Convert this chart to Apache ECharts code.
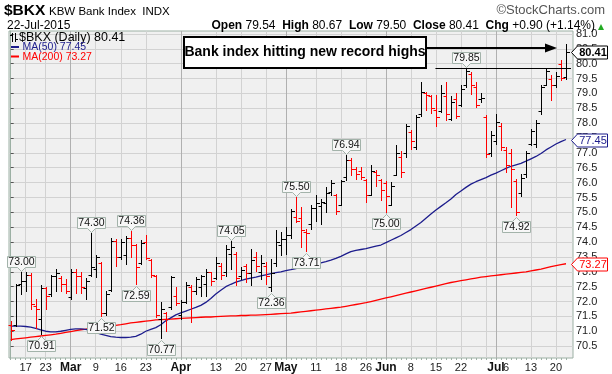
<!DOCTYPE html>
<html><head><meta charset="utf-8">
<script src="https://cdn.jsdelivr.net/npm/echarts@6/dist/echarts.min.js"></script>
<style>html,body{margin:0;padding:0;background:#fff}#c{width:612px;height:374px}</style>
</head><body><div id="c"></div>
<script>
// ---------- data ----------
const dates = ['2015-02-11','2015-02-12','2015-02-13','2015-02-17','2015-02-18','2015-02-19','2015-02-20','2015-02-23','2015-02-24','2015-02-25',
'2015-02-26','2015-02-27','2015-03-02','2015-03-03','2015-03-04','2015-03-05','2015-03-06','2015-03-09','2015-03-10','2015-03-11',
'2015-03-12','2015-03-13','2015-03-16','2015-03-17','2015-03-18','2015-03-19','2015-03-20','2015-03-23','2015-03-24','2015-03-25',
'2015-03-26','2015-03-27','2015-03-30','2015-03-31','2015-04-01','2015-04-02','2015-04-06','2015-04-07','2015-04-08','2015-04-09',
'2015-04-10','2015-04-13','2015-04-14','2015-04-15','2015-04-16','2015-04-17','2015-04-20','2015-04-21','2015-04-22','2015-04-23',
'2015-04-24','2015-04-27','2015-04-28','2015-04-29','2015-04-30','2015-05-01','2015-05-04','2015-05-05','2015-05-06','2015-05-07',
'2015-05-08','2015-05-11','2015-05-12','2015-05-13','2015-05-14','2015-05-15','2015-05-18','2015-05-19','2015-05-20','2015-05-21',
'2015-05-22','2015-05-26','2015-05-27','2015-05-28','2015-05-29','2015-06-01','2015-06-02','2015-06-03','2015-06-04','2015-06-05',
'2015-06-08','2015-06-09','2015-06-10','2015-06-11','2015-06-12','2015-06-15','2015-06-16','2015-06-17','2015-06-18','2015-06-19',
'2015-06-22','2015-06-23','2015-06-24','2015-06-25','2015-06-26','2015-06-29','2015-06-30','2015-07-01','2015-07-02','2015-07-06',
'2015-07-07','2015-07-08','2015-07-09','2015-07-10','2015-07-13','2015-07-14','2015-07-15','2015-07-16','2015-07-17','2015-07-20',
'2015-07-21','2015-07-22'];

const opens = [71.20,71.20,72.60,72.70,72.90,71.85,71.40,72.45,72.25,72.85,
72.80,72.60,72.15,73.00,72.85,72.45,72.90,73.10,73.30,71.60,
72.40,74.05,73.50,73.55,74.15,73.90,73.30,74.00,73.40,72.85,
71.40,71.60,71.80,72.20,71.55,72.00,72.50,72.35,72.50,72.60,
73.00,72.80,73.20,73.00,73.60,73.60,72.85,73.20,72.95,73.50,
73.00,73.20,72.50,73.30,73.90,74.10,74.25,74.85,74.80,74.35,
74.60,75.15,75.20,75.30,75.70,75.60,75.25,76.20,76.75,76.45,
76.40,76.10,75.60,76.35,76.10,76.00,75.25,76.25,76.85,77.00,
77.70,77.20,78.30,79.00,78.90,78.45,78.40,78.90,78.15,78.80,
78.60,79.30,79.65,79.20,78.80,78.20,77.00,77.40,77.90,77.10,
77.00,76.05,75.65,76.30,77.30,77.30,78.40,79.30,79.50,79.30,
80.00,79.54];

const highs = [71.36,72.60,73.00,72.98,72.95,72.10,72.55,72.48,72.90,73.10,
72.85,72.76,73.10,73.08,73.00,72.80,74.30,73.57,73.32,72.37,
74.13,74.11,74.11,74.20,74.36,73.94,74.08,74.25,73.43,72.88,
71.97,71.66,72.87,72.48,72.05,72.65,72.55,72.81,72.90,73.10,
73.00,73.49,73.29,73.90,74.05,73.66,73.15,73.27,73.75,73.66,
73.55,73.32,73.43,74.40,74.35,74.50,75.10,75.50,75.17,74.45,
75.23,75.57,75.45,75.85,76.10,75.62,76.10,76.94,76.82,76.52,
76.52,76.13,76.58,76.41,76.13,76.07,76.02,77.27,77.08,77.98,
77.76,78.28,79.40,79.05,78.95,78.96,79.27,79.38,78.90,79.00,
79.27,79.85,79.72,79.38,79.00,78.26,77.75,78.30,78.00,77.19,
77.14,76.13,76.30,77.08,77.81,78.09,79.27,79.83,79.61,79.72,
80.11,80.67];

const lows = [70.70,71.17,72.26,72.35,71.75,71.10,70.91,71.75,72.20,72.35,
72.35,72.30,72.10,72.30,72.30,72.10,72.85,72.82,71.52,71.55,
72.37,73.20,73.43,73.27,73.50,72.59,73.27,73.43,72.82,71.47,
70.77,71.02,71.75,71.88,71.40,71.95,71.30,72.25,72.20,72.20,
72.54,72.76,72.76,72.85,73.10,72.54,72.75,72.67,72.55,73.04,
72.75,72.59,72.36,73.20,73.55,73.60,74.15,74.67,73.83,73.71,
74.45,74.70,74.60,75.00,75.60,74.95,75.23,76.10,76.24,76.13,
76.13,75.34,75.57,75.90,75.40,75.00,75.23,76.24,76.18,76.86,
77.14,77.14,78.25,78.43,78.35,77.90,78.37,78.10,78.09,78.18,
78.58,79.20,78.99,78.54,78.72,76.86,76.90,77.30,77.10,76.35,
75.17,74.92,75.55,76.18,77.25,77.20,78.32,79.27,78.77,79.21,
79.45,79.50];

const closes = [71.05,72.55,72.70,72.90,71.90,71.75,72.45,72.20,72.85,72.95,
72.60,72.35,73.00,72.85,72.50,72.70,73.15,73.50,71.60,72.25,
74.05,73.50,74.00,74.15,73.90,73.15,73.97,73.45,72.90,71.55,
71.75,71.40,72.82,71.95,72.00,72.55,72.35,72.75,72.85,73.00,
72.70,73.30,72.90,73.75,73.82,72.80,73.05,72.95,73.40,73.20,
73.30,72.85,72.95,74.00,74.10,74.25,75.05,74.70,74.40,74.30,
75.15,75.30,75.35,75.65,76.00,75.05,76.05,76.75,76.45,76.30,
76.20,75.60,76.40,76.25,75.75,75.55,75.90,77.00,76.35,77.90,
77.40,78.20,79.05,78.95,78.50,78.20,79.00,78.30,78.70,78.25,
79.15,79.75,79.30,78.60,78.85,76.95,77.60,78.05,77.20,76.60,
76.45,75.00,76.15,77.00,77.75,78.00,79.20,79.75,79.27,79.60,
79.506,80.41];

const prevClose = 71.30; // close of the session before the first bar

const ma50 = [71.17,71.17,71.17,71.16,71.14,71.10,71.05,71.00,70.98,70.98,
71.00,71.03,71.06,71.08,71.08,71.06,71.02,70.96,70.90,70.86,
70.82,70.80,70.79,70.79,70.80,70.83,70.90,71.00,71.06,71.12,
71.22,71.35,71.45,71.55,71.62,71.68,71.74,71.80,71.87,71.97,
72.10,72.25,72.38,72.50,72.58,72.65,72.70,72.75,72.79,72.82,
72.86,72.90,72.94,72.97,73.00,73.04,73.07,73.11,73.15,73.19,
73.23,73.27,73.30,73.34,73.39,73.45,73.52,73.60,73.68,73.72,
73.75,73.78,73.82,73.86,73.90,73.98,74.06,74.14,74.22,74.32,
74.42,74.54,74.66,74.80,74.94,75.08,75.20,75.32,75.45,75.60,
75.72,75.84,75.95,76.03,76.10,76.17,76.25,76.32,76.40,76.48,
76.55,76.60,76.65,76.72,76.80,76.88,76.98,77.10,77.20,77.30,
77.38,77.45];

const ma200 = [70.72,70.74,70.76,70.78,70.80,70.82,70.84,70.86,70.88,70.90,
70.93,70.96,70.99,71.02,71.05,71.07,71.10,71.12,71.14,71.16,
71.18,71.20,71.22,71.25,71.28,71.30,71.32,71.34,71.36,71.38,
71.39,71.40,71.41,71.42,71.43,71.44,71.45,71.46,71.47,71.48,
71.48,71.49,71.50,71.51,71.52,71.52,71.53,71.53,71.54,71.54,
71.55,71.56,71.57,71.58,71.59,71.60,71.61,71.63,71.65,71.67,
71.69,71.71,71.73,71.75,71.77,71.79,71.81,71.84,71.87,71.90,
71.93,71.96,72.00,72.04,72.08,72.12,72.16,72.20,72.24,72.28,
72.32,72.36,72.40,72.44,72.48,72.52,72.56,72.60,72.64,72.67,
72.70,72.73,72.76,72.79,72.82,72.84,72.86,72.88,72.90,72.92,
72.94,72.96,72.98,73.00,73.03,73.06,73.09,73.13,73.17,73.21,
73.24,73.27];

// x tick labels (bar index -> text)
const xTickIdx  = [3,7,12,17,22,27,34,41,46,51,55,61,66,71,75,80,85,90,97,99,104,109];
const xTickText = ['17','23','Mar','9','16','23','Apr','13','20','27','May','11','18','26','Jun','8','15','22','Jul','6','13','20'];
const xGridIdx  = [3,7,12,17,22,27,34,41,46,51,55,61,66,71,75,80,85,90,95,97,104,109];
const monthIdx  = [12,34,55,75,97];
const yTicks = [70.5,71,71.5,72,72.5,73,73.5,74,74.5,75,75.5,76,76.5,77,77.5,78,78.5,79,79.5,80,80.5,81];

// annotated swing highs / lows (bar indices)
const peakIdx = [2,16,24,44,57,67,91];
const troughIdx = [6,18,25,30,52,59,75,101];

// ---------- chart ----------
const N = closes.length, last = N - 1;
const X_MIN = -0.34, X_MAX = 112.4;
const FONT = '"Liberation Sans", Arial, sans-serif';
const ohlcData = dates.map((d, i) => [i, opens[i], highs[i], lows[i], closes[i]]);
const ma50Data = ma50.map((v, i) => [i, v]);
const ma200Data = ma200.map((v, i) => [i, v]);
const hiloData = peakIdx.map(i => [i, highs[i], 1]).concat(troughIdx.map(i => [i, lows[i], -1]));
const tagData = [[last, closes[last], 0], [last, ma50[last], 1], [last, ma200[last], 2]];
const tagColors = ['#000000', '#1c1c8c', '#ff0000'];
const allIdx = dates.map((d, i) => i);

function renderOHLC(params, api) {
  const i = api.value(0);
  const pO = api.coord([i, api.value(1)]);
  const pH = api.coord([i, api.value(2)]);
  const pL = api.coord([i, api.value(3)]);
  const pC = api.coord([i, api.value(4)]);
  const prev = i === 0 ? prevClose : closes[i - 1];
  const col = api.value(4) < prev ? '#ff0000' : '#000000';
  const x = Math.round(pH[0]) + 0.5;
  const st = { stroke: col, lineWidth: 1 };
  const yo = Math.round(pO[1]) + 0.5, yc = Math.round(pC[1]) + 0.5;
  return { type: 'group', children: [
    { type: 'line', shape: { x1: x, y1: Math.round(pH[1]), x2: x, y2: Math.round(pL[1]) + 1 }, style: st },
    { type: 'line', shape: { x1: x - 3, y1: yo, x2: x, y2: yo }, style: st },
    { type: 'line', shape: { x1: x, y1: yc, x2: x + 3.5, y2: yc }, style: st }
  ]};
}

function renderHiLo(params, api) {
  const up = api.value(2) > 0;
  const v = api.value(1);
  const p = api.coord([api.value(0), v]);
  const txt = v.toFixed(2);
  const w = 28, h = 11, gap = 1, ptr = 4;
  const x = Math.round(p[0]) + 0.5;
  let pts, ty;
  if (up) {
    const yb = Math.round(p[1]) - gap - ptr + 0.5;
    const yt = yb - h;
    pts = [[x - w/2, yt], [x + w/2, yt], [x + w/2, yb], [x + ptr, yb], [x, yb + ptr], [x - ptr, yb], [x - w/2, yb]];
    ty = (yt + yb) / 2 + 0.5;
  } else {
    const yt = Math.round(p[1]) + gap + ptr + 1.5;
    const yb = yt + h;
    pts = [[x - w/2, yt], [x - ptr, yt], [x, yt - ptr], [x + ptr, yt], [x + w/2, yt], [x + w/2, yb], [x - w/2, yb]];
    ty = (yt + yb) / 2 + 0.5;
  }
  return { type: 'group', children: [
    { type: 'polygon', shape: { points: pts }, style: { fill: '#f7f7f7', stroke: '#a3b3aa', lineWidth: 1 } },
    { type: 'text', x: x, y: ty, style: { text: txt, fill: '#111', font: '10.5px ' + FONT, align: 'center', verticalAlign: 'middle' } }
  ]};
}

function renderTag(params, api) {
  const v = api.value(1), t = api.value(2);
  const p = api.coord([X_MAX, v]);
  const x0 = Math.round(p[0]) - 1.5, y = Math.round(p[1]) + 0.5;
  const col = tagColors[t];
  const h = 6.5;
  return { type: 'group', children: [
    { type: 'polygon', shape: { points: [[x0, y], [x0 + 6, y - h], [x0 + 36, y - h], [x0 + 36, y + h], [x0 + 6, y + h]] },
      style: { fill: '#ffffff', stroke: col, lineWidth: 1 } },
    { type: 'text', x: x0 + 21.5, y: y + 0.5, style: { text: v.toFixed(2), fill: col, font: (t === 0 ? 'bold ' : '') + '11px ' + FONT, align: 'center', verticalAlign: 'middle' } }
  ]};
}

const chg = closes[last] - closes[last - 1];
const pct = chg / closes[last - 1] * 100;
const sgn = chg >= 0 ? '+' : '';
const hdr = '{b|Open} ' + opens[last].toFixed(2) + '  {b|High} ' + highs[last].toFixed(2) + '  {b|Low} ' + lows[last].toFixed(2) +
  '  {b|Close} ' + closes[last].toFixed(2) + '  {b|Chg} ' + sgn + chg.toFixed(2) + ' (' + sgn + pct.toFixed(2) + '%)';

const chart = echarts.init(document.getElementById('c'), null, { renderer: 'canvas', width: 612, height: 374 });
chart.setOption({
  animation: false,
  backgroundColor: '#ffffff',
  grid: { left: 9, right: 39, top: 31, bottom: 16, show: true, backgroundColor: '#f0f0f0', borderColor: '#9cb0a4', borderWidth: 1 },
  xAxis: [
    { type: 'value', min: X_MIN, max: X_MAX, position: 'bottom',
      axisLine: { show: false }, axisTick: { show: false, customValues: xGridIdx },
      axisLabel: { customValues: xTickIdx, margin: 4, fontSize: 11, color: '#222', fontFamily: FONT,
        formatter: v => { const j = xTickIdx.indexOf(Math.round(v)); const t = xTickText[j]; return /^[A-Za-z]/.test(t) ? '{m|' + t + '}' : t; },
        rich: { m: { fontWeight: 'bold', fontSize: 12, fontFamily: FONT, color: '#111' } } },
      splitLine: { show: true, lineStyle: { color: '#d2d2d2', width: 1 } } },
    { type: 'value', min: X_MIN, max: X_MAX, position: 'bottom',
      axisLine: { show: false }, axisTick: { show: false, customValues: monthIdx }, axisLabel: { show: false },
      splitLine: { show: true, lineStyle: { color: '#b0b0b0', width: 1 } } },
    { type: 'value', min: X_MIN, max: X_MAX, position: 'bottom',
      axisLine: { show: false }, axisTick: { show: true, customValues: allIdx, length: 2, lineStyle: { color: '#9cb0a4' } },
      axisLabel: { show: false }, splitLine: { show: false } }
  ],
  yAxis: { type: 'value', position: 'right', min: 70.1, max: 81.1,
    axisLine: { show: true, lineStyle: { color: '#9cb0a4' } },
    axisTick: { show: true, customValues: yTicks, length: 3, lineStyle: { color: '#555' } },
    axisLabel: { customValues: yTicks, margin: 3, fontSize: 11, color: '#222', fontFamily: FONT, formatter: v => v.toFixed(1) },
    splitLine: { show: true, lineStyle: { color: '#d2d2d2', width: 1 } } },
  series: [
    { type: 'line', name: 'MA(200)', data: ma200Data, showSymbol: false, symbol: 'none', lineStyle: { color: '#ff0000', width: 1.3 }, z: 2 },
    { type: 'line', name: 'MA(50)', data: ma50Data, showSymbol: false, symbol: 'none', lineStyle: { color: '#1c1c8c', width: 1.3 }, z: 2 },
    { type: 'custom', name: 'BKX', data: ohlcData, renderItem: renderOHLC, encode: { x: 0, y: [1, 2, 3, 4] }, z: 3,
      markLine: { silent: true, symbol: 'none', label: { show: false }, lineStyle: { color: '#000', width: 1, type: 'solid' },
        data: [[{ coord: [84.9, highs[91]] }, { coord: [112.0, highs[91]] }]] } },
    { type: 'custom', name: 'hilo', data: hiloData, renderItem: renderHiLo, encode: { x: 0, y: 1 }, z: 4, clip: false },
    { type: 'custom', name: 'tags', data: tagData, renderItem: renderTag, encode: { x: 0, y: 1 }, z: 5, clip: false }
  ],
  graphic: [
    { type: 'text', z: 100, x: 4, y: 3, style: { text: '$BKX', font: 'bold 15.5px ' + FONT, fill: '#000' } },
    { type: 'text', z: 100, x: 49, y: 6, style: { text: 'KBW Bank Index  INDX', font: '11.5px ' + FONT, fill: '#000' } },
    { type: 'text', z: 100, x: 7, y: 20, style: { text: '22-Jul-2015', font: '12px ' + FONT, fill: '#000' } },
    { type: 'text', z: 100, x: 605, y: 4, style: { text: '\u00A9StockCharts.com', font: '13px ' + FONT, fill: '#555', align: 'right' } },
    { type: 'text', z: 100, x: 595, y: 20, style: { text: hdr, font: '12px ' + FONT, fill: '#000', align: 'right', rich: { b: { fontWeight: 'bold', fontSize: 12, fontFamily: FONT } } } },
    { type: 'polygon', z: 100, shape: { points: [[598, 30], [604, 30], [601, 24]] }, style: { fill: '#22aa22' } },
    // legend
    { type: 'line', z: 100, shape: { x1: 12.5, y1: 33, x2: 12.5, y2: 42 }, style: { stroke: '#000', lineWidth: 1 } },
    { type: 'line', z: 100, shape: { x1: 10, y1: 35.5, x2: 12.5, y2: 35.5 }, style: { stroke: '#000', lineWidth: 1 } },
    { type: 'line', z: 100, shape: { x1: 15.5, y1: 33, x2: 15.5, y2: 42 }, style: { stroke: '#000', lineWidth: 1 } },
    { type: 'line', z: 100, shape: { x1: 15.5, y1: 39.5, x2: 18, y2: 39.5 }, style: { stroke: '#000', lineWidth: 1 } },
    { type: 'text', z: 100, x: 19, y: 37.5, style: { text: '$BKX (Daily) ' + closes[last].toFixed(2), font: '12.5px ' + FONT, fill: '#000', verticalAlign: 'middle' } },
    { type: 'rect', z: 100, shape: { x: 11, y: 46, width: 8, height: 2 }, style: { fill: '#1c1c8c' } },
    { type: 'text', z: 100, x: 22.5, y: 47.5, style: { text: 'MA(50) ' + ma50[last].toFixed(2), font: '10.5px ' + FONT, fill: '#1c1c8c', verticalAlign: 'middle' } },
    { type: 'rect', z: 100, shape: { x: 11, y: 55.5, width: 8, height: 2 }, style: { fill: '#ff0000' } },
    { type: 'text', z: 100, x: 22.5, y: 57, style: { text: 'MA(200) ' + ma200[last].toFixed(2), font: '10.5px ' + FONT, fill: '#ff0000', verticalAlign: 'middle' } },
    // annotation
    { type: 'rect', z: 100, shape: { x: 184, y: 37, width: 242, height: 31 }, style: { fill: '#ffffff', stroke: '#000', lineWidth: 2 } },
    { type: 'text', z: 101, x: 305, y: 52.5, style: { text: 'Bank index hitting new record highs', font: 'bold 14px ' + FONT, fill: '#000', align: 'center', verticalAlign: 'middle' } },
    { type: 'line', z: 100, shape: { x1: 427, y1: 48, x2: 547, y2: 48 }, style: { stroke: '#000', lineWidth: 2 } },
    { type: 'polygon', z: 100, shape: { points: [[545, 43.5], [557, 48], [545, 52.5]] }, style: { fill: '#000' } }
  ]
});
</script>
</body></html>
